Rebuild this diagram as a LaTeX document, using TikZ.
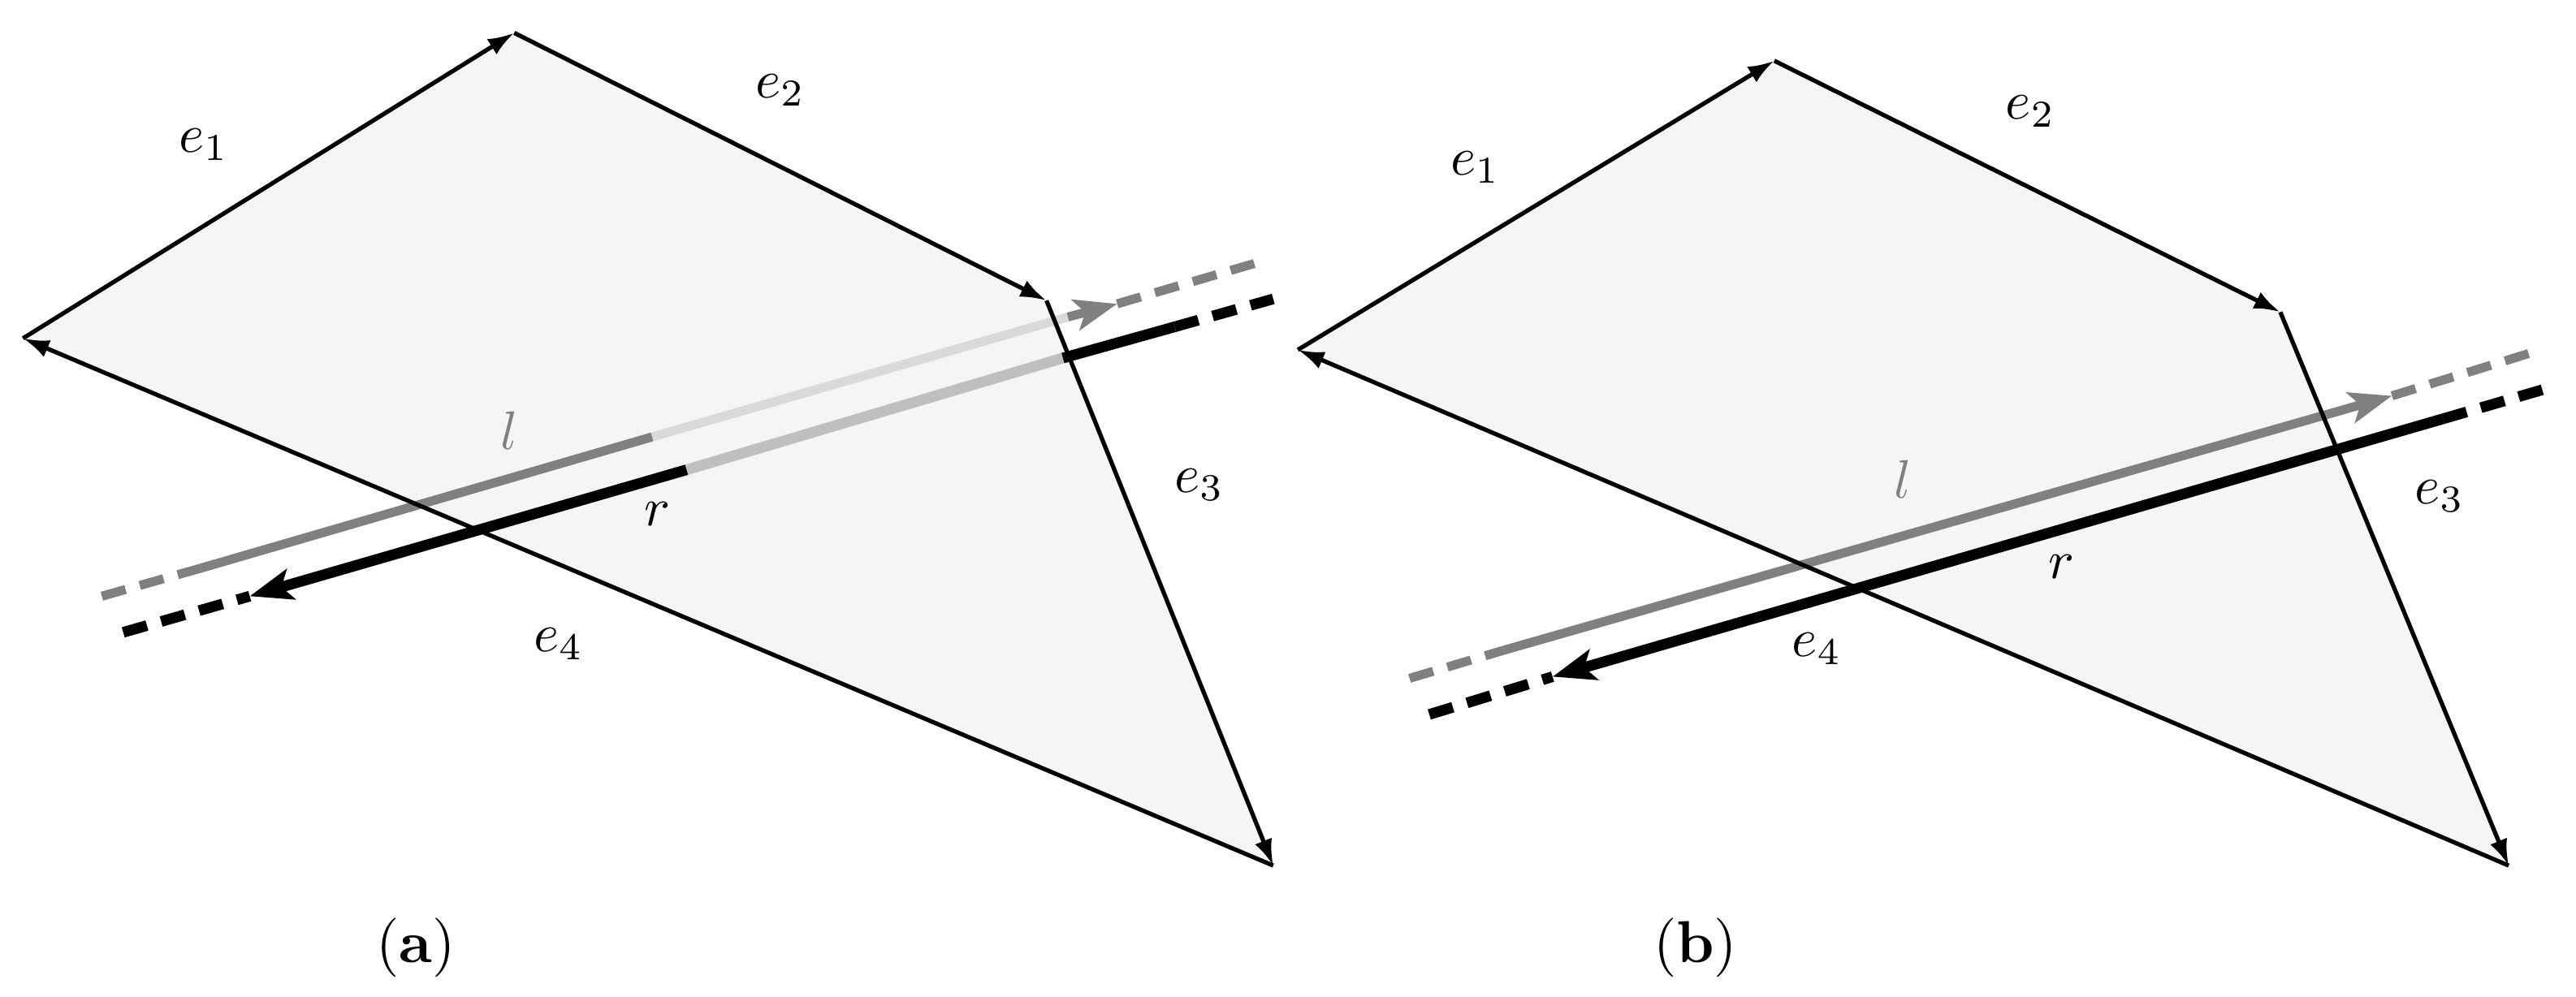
\documentclass[tikz,border=0pt]{standalone}
\usetikzlibrary{arrows.meta}
\newcommand{\Sc}[1]{\scalebox{3.3}{#1}}
\begin{document}
\begin{tikzpicture}[x=1pt,y=-1pt,
 edge/.style={line width=2.6pt,-{Latex[length=16pt,width=11pt]}},
 poly/.style={fill=black!4},
 lab/.style={},
 gl/.style={line width=5.5pt,draw=black!50},
 bl/.style={line width=6.5pt,draw=black},
 dsh/.style={dash pattern=on 15pt off 9pt},
 tip/.style={-{Stealth[length=26pt,width=19pt,inset=6pt]}}]
\useasboundingbox (0,0) rectangle (1568,607);
% ---------- (a)
\coordinate (a1) at (14,206); \coordinate (a2) at (313,20);
\coordinate (a3) at (637,183); \coordinate (a4) at (775,527);
\fill[poly] (a1)--(a2)--(a3)--(a4)--cycle;
\coordinate (la0) at (62,363); \coordinate (la1) at (122,346);
\coordinate (la2) at (397,266); \coordinate (la3) at (680,185);
\coordinate (la4) at (765,160);
\draw[gl,dsh] (la0)--(la1);
\draw[gl] (la1)--(la2);
\draw[gl,draw=black!15] (la2)--(650,193);
\draw[gl,tip] (650,193)--(la3);
\draw[gl,dsh] (la3)--(la4);
\coordinate (ra0) at (75,385); \coordinate (ra1) at (152,363);
\coordinate (ra2) at (418,286); \coordinate (ra3) at (647,218);
\coordinate (ra4) at (715,199); \coordinate (ra5) at (775,182);
\draw[bl,dsh] (ra0)--(ra1);
\draw[bl,tip] (ra2)--(ra1);
\draw[bl,draw=black!25] (ra2)--(ra3);
\draw[bl] (ra3)--(ra4);
\draw[bl,dsh] (ra4)--(ra5);
\draw[edge] (a1)--(a2);
\draw[edge] (a2)--(a3);
\draw[edge] (a3)--(a4);
\draw[edge] (a4)--(a1);
\node[lab] (ae1) at (124,88) {\Sc{$e_1$}};
\node[lab] (ae2) at (475,55) {\Sc{$e_2$}};
\node[lab] (ae3) at (730,295) {\Sc{$e_3$}};
\node[lab] (ae4) at (340,392) {\Sc{$e_4$}};
\node[lab,text=black!50] (al) at (310,262) {\Sc{$l$}};
\node[lab] (ar) at (400,313) {\Sc{$r$}};
\node (ca) at (253,577) {\scalebox{3.6}{(\textbf{a})}};
% ---------- (b)
\coordinate (b1) at (790,213); \coordinate (b2) at (1080,37);
\coordinate (b3) at (1388,190); \coordinate (b4) at (1527,527);
\fill[poly] (b1)--(b2)--(b3)--(b4)--cycle;
\coordinate (lb0) at (858,413); \coordinate (lb1) at (915,396);
\coordinate (lb2) at (1456,241); \coordinate (lb3) at (1540,215);
\draw[gl,dsh] (lb0)--(lb1);
\draw[gl,tip] (lb1)--(lb2);
\draw[gl,dsh] (lb2)--(lb3);
\coordinate (rb0) at (870,435); \coordinate (rb1) at (945,412);
\coordinate (rb2) at (1487,255); \coordinate (rb3) at (1552,236);
\draw[bl,dsh] (rb0)--(rb1);
\draw[bl,tip] (rb2)--(rb1);
\draw[bl,dsh] (rb2)--(rb3);
\draw[edge] (b1)--(b2);
\draw[edge] (b2)--(b3);
\draw[edge] (b3)--(b4);
\draw[edge] (b4)--(b1);
\node[lab] (be1) at (898,102) {\Sc{$e_1$}};
\node[lab] (be2) at (1236,68) {\Sc{$e_2$}};
\node[lab] (be3) at (1485,302) {\Sc{$e_3$}};
\node[lab] (be4) at (1106,395) {\Sc{$e_4$}};
\node[lab,text=black!50] (bl) at (1158,292) {\Sc{$l$}};
\node[lab] (br) at (1255,345) {\Sc{$r$}};
\node (cb) at (1032,577) {\scalebox{3.6}{(\textbf{b})}};
\end{tikzpicture}
\end{document}
